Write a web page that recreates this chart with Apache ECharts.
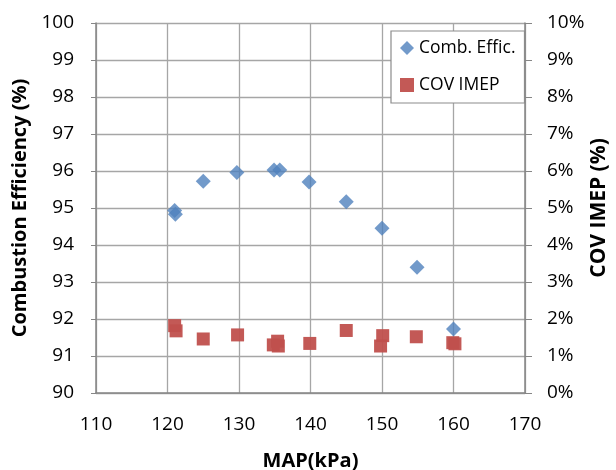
<!DOCTYPE html>
<html>
<head>
<meta charset="utf-8">
<script src="https://cdn.jsdelivr.net/npm/echarts@6/dist/echarts.min.js"></script>
<style>
  html, body { margin: 0; padding: 0; background: #fff; }
  #chart { width: 616px; height: 470px; }
</style>
</head>
<body>
<div id="chart"></div>
<script>
// Manifold pressure (kPa) and combustion efficiency (%)
const effMap = [121.0, 121.1, 125.0, 129.7, 134.9, 135.7, 139.8, 145.0, 150.0, 154.9, 160.0];
const effValues = [94.93, 94.83, 95.72, 95.96, 96.03, 96.03, 95.70, 95.17, 94.45, 93.40, 91.73];

// Manifold pressure (kPa) and COV of IMEP (%)
const covMap = [121.0, 121.2, 125.0, 129.8, 134.8, 135.4, 135.5, 139.9, 145.0, 150.1, 149.8, 154.8, 159.9, 160.2];
const covValues = [1.82, 1.68, 1.46, 1.57, 1.30, 1.40, 1.27, 1.34, 1.69, 1.55, 1.27, 1.52, 1.36, 1.33];

const xTicks = [110, 170, 10];       // min, max, step
const effTicks = [90, 100, 1];
const covTicks = [0, 10, 1];

const font = '"Open Sans", "Liberation Sans", sans-serif';
const gridColor = '#a6a6a6';

const chart = echarts.init(document.getElementById('chart'), null, { renderer: 'canvas' });

chart.setOption({
  animation: false,
  backgroundColor: '#ffffff',
  grid: { left: 96, right: 91, top: 23, bottom: 77, containLabel: false, outerBoundsMode: 'none' },
  legend: {
    left: 391, top: 31,
    orient: 'vertical',
    itemGap: 19,
    itemWidth: 14, itemHeight: 14,
    padding: [8, 9, 9, 9],
    borderColor: '#8c8c8c', borderWidth: 1.2,
    backgroundColor: '#ffffff',
    textStyle: { fontFamily: font, fontSize: 17.5, color: '#000' },
    data: [
      { name: 'Comb. Effic.', icon: 'diamond' },
      { name: 'COV IMEP', icon: 'rect' }
    ]
  },
  xAxis: {
    type: 'value',
    min: xTicks[0], max: xTicks[1], interval: xTicks[2],
    name: 'MAP(kPa)',
    nameLocation: 'middle', nameGap: 58,
    nameTextStyle: { fontFamily: font, fontSize: 20, fontWeight: 'bold', color: '#000' },
    axisLine: { show: true, lineStyle: { color: '#868686', width: 1.5 } },
    axisTick: { show: false },
    axisLabel: { fontFamily: font, fontSize: 19, color: '#000', margin: 22 },
    splitLine: { show: true, lineStyle: { color: gridColor, width: 1.3 } }
  },
  yAxis: [
    {
      type: 'value',
      min: effTicks[0], max: effTicks[1], interval: effTicks[2],
      name: 'Combustion Efficiency (%)',
      nameLocation: 'middle', nameGap: 66,
      nameTextStyle: { fontFamily: font, fontSize: 20, fontWeight: 'bold', color: '#000' },
      axisLine: { show: true, lineStyle: { color: '#868686', width: 1.5 } },
      axisTick: { show: true, length: 5, lineStyle: { color: '#868686' } },
      axisLabel: { fontFamily: font, fontSize: 19, color: '#000', margin: 22 },
      splitLine: { show: true, lineStyle: { color: gridColor, width: 1.3 } }
    },
    {
      type: 'value',
      min: covTicks[0], max: covTicks[1], interval: covTicks[2],
      position: 'right',
      name: 'COV IMEP (%)',
      nameLocation: 'middle', nameGap: 64, nameRotate: 90,
      nameMoveOverlap: false,
      nameTextStyle: { fontFamily: font, fontSize: 21, fontWeight: 'bold', color: '#000' },
      axisLine: { show: true, lineStyle: { color: '#868686', width: 1.5 } },
      axisTick: { show: true, length: 7, lineStyle: { color: '#868686' } },
      axisLabel: { fontFamily: font, fontSize: 19, color: '#000', margin: 22, formatter: '{value}%' },
      splitLine: { show: false }
    }
  ],
  series: [
    {
      name: 'COV IMEP',
      type: 'scatter',
      yAxisIndex: 1,
      symbol: 'rect',
      symbolSize: 13,
      itemStyle: { color: '#c0504d', opacity: 0.95 },
      data: covMap.map((x, i) => [x, covValues[i]])
    },
    {
      name: 'Comb. Effic.',
      type: 'scatter',
      yAxisIndex: 0,
      symbol: 'diamond',
      symbolSize: 15,
      itemStyle: { color: '#4f81bd' },
      data: effMap.map((x, i) => [x, effValues[i]])
    }
  ]
});
</script>
</body>
</html>
